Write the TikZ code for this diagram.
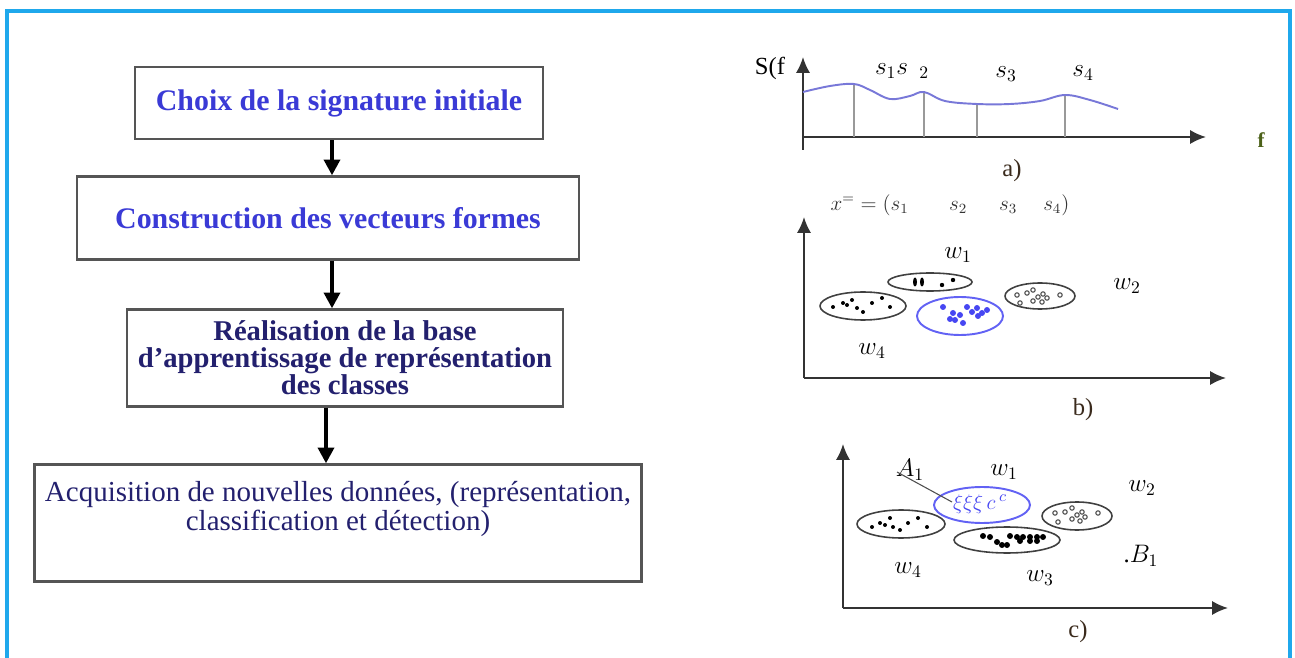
\documentclass[tikz,border=0pt]{standalone}
\usepackage{fontspec}
\setmainfont{Liberation Serif}
\usetikzlibrary{arrows.meta, calc}

\definecolor{framecyan}{HTML}{1FA8EC}
\definecolor{titleblue}{HTML}{3A3AD6}
\definecolor{navytext}{HTML}{23206E}
\definecolor{boxgray}{HTML}{555555}
\definecolor{curveblue}{HTML}{7878D8}
\definecolor{clusterblue}{HTML}{4646F2}
\definecolor{capbrown}{HTML}{3A2A1C}

\tikzset{
  stepbox/.style={draw=boxgray, line width=1.3pt, fill=white, inner sep=2pt, align=center},
  flow/.style={line width=2.6pt, -{Triangle[length=9pt, width=9pt]}},
  axis/.style={line width=1.1pt, draw=black!80, -{Latex[length=9pt, width=8pt]}},
  cluster/.style={draw=black!75, line width=0.9pt},
  bluecluster/.style={draw=clusterblue!85, line width=1.1pt},
  tick/.style={draw=black!40, line width=0.9pt},
  lbl/.style={font=\fontsize{14}{16}\selectfont},
}

\begin{document}
\begin{tikzpicture}[x=0.02cm, y=-0.02cm, >=Latex]
        \useasboundingbox (0,0) rectangle (1295,658);

        % --- FRAME ---
        \draw[framecyan, line width=1.8pt] (7,658) -- (7,11) -- (1290,11) -- (1290,658);

        % --- FLOW CHART (LEFT) ---
        \node[stepbox, minimum width=8.16cm, minimum height=1.44cm, text=titleblue,
              font=\bfseries\fontsize{17}{20}\selectfont] (choix) at (339,103)
              {Choix de la signature initiale};
        \node[stepbox, minimum width=10.04cm, minimum height=1.66cm, text=titleblue,
              font=\bfseries\fontsize{17}{20}\selectfont] (vect) at (328,218)
              {Construction des vecteurs formes};
        \node[stepbox, minimum width=8.72cm, minimum height=1.94cm, text=navytext,
              font=\bfseries\fontsize{16.3}{15.3}\selectfont] (base) at (345,358)
              {Réalisation de la base\\ d'apprentissage de représentation\\ des classes};
        \node[stepbox, minimum width=12.14cm, minimum height=2.34cm, text=navytext,
              font=\fontsize{16.5}{15}\selectfont] (acq) at (338,523)
              {\parbox[c][1.65cm][t]{12cm}{\centering Acquisition de nouvelles données, (représentation,\\ classification et détection)}};

        % Arrows
        \draw[flow] (choix.south) ++(-7,0) coordinate (c1) -- (c1 |- vect.north);
        \draw[flow] (vect.south) ++(4,0) coordinate (c2) -- (c2 |- base.north);
        \draw[flow] (base.south) ++(-19,0) coordinate (c3) -- (c3 |- acq.north);

        % --- a) SIGNATURE ---
        \coordinate (Oa) at (803,137);
        \draw[axis] (803,150) -- (803,57);
        \draw[axis] (Oa) -- (1206,137);
        \foreach \xs/\ys in {854/84, 924/92, 977/104, 1065/95}
            \draw[tick] (\xs,\ys) -- (\xs,137);
        \draw[curveblue, line width=1.1pt] plot[smooth, tension=0.6] coordinates
            {(803,92) (830,86) (854,84) (870,90) (890,99) (910,96) (924,92) (945,101)
             (977,104) (1010,104) (1040,101) (1065,95) (1090,100) (1118,109)};
        \node[lbl] (Sf) at (770,68) {S(f};
        \node[lbl] (s12) at (902,71) {$s_1s\;\,{}_2$};
        \node[lbl] (s3) at (1006,74) {$s_3$};
        \node[lbl] (s4) at (1083,73) {$s_4$};
        \node[font=\bfseries\fontsize{12}{14}\selectfont, text=black!70!green!60!brown] (fa) at (1261,140) {f};
        \node[lbl, text=capbrown] (capa) at (1012,171) {a)};

        % --- b) LEARNING BASE ---
        \node[font=\fontsize{11.5}{13}\selectfont, text=black!80] (xvec) at (950,205)
            {$x^{=} = (s_1\qquad s_2\quad\;\; s_3\quad\; s_4)$};
        \draw[axis] (804,378) -- (804,217);
        \draw[axis] (804,378) -- (1226,378);
        \draw[cluster] (930,282) ellipse (42 and 9);
        \draw[cluster] (863,306) ellipse (43 and 14);
        \draw[bluecluster] (960,316) ellipse (43 and 19);
        \draw[cluster] (1040,296) ellipse (35 and 13);
        % points
        \foreach \px/\py in {833/307, 843/303, 852/300, 857/308, 863/312, 872/303, 882/298, 890/307, 847/305}
            \fill (\px,\py) circle (2);
        \foreach \px/\py in {915/282, 922/282}
            \fill (\px,\py) ellipse (2 and 4.5);
        \foreach \px/\py in {942/285, 953/280}
            \fill (\px,\py) circle (2.2);
        \foreach \px/\py in {943/307, 953/313, 955/320, 963/323, 967/307, 972/312, 977/308, 982/313, 987/310, 960/315, 950/319, 978/316}
            \fill[clusterblue] (\px,\py) circle (3);
        \foreach \px/\py in {1017/295, 1027/293, 1033/290, 1038/297, 1043/294, 1047/298, 1060/295, 1033/301, 1020/303, 1042/302}
            \draw[black!70, line width=0.6pt] (\px,\py) circle (2.2);
        \node[lbl] (w1b) at (958,255) {$w_1$};
        \node[lbl] (w2b) at (1127,286) {$w_2$};
        \node[lbl] (w4b) at (872,351) {$w_4$};
        \node[lbl, text=capbrown] (capb) at (1083,410) {b)};

        % --- c) CLASSIFICATION ---
        \draw[axis] (843,608) -- (843,444);
        \draw[axis] (843,608) -- (1228,608);
        \draw[bluecluster] (982,505) ellipse (48 and 18);
        \draw[cluster] (901,524) ellipse (44 and 14);
        \draw[cluster] (1077,516) ellipse (35 and 14);
        \draw[cluster] (1007,540) ellipse (53 and 13);
        \foreach \px/\py in {872/527, 880/523, 890/518, 893/527, 900/530, 908/523, 918/518, 927/527, 885/525}
            \fill (\px,\py) circle (2);
        \foreach \px/\py in {1055/513, 1065/512, 1072/508, 1077/515, 1082/512, 1085/517, 1098/513, 1072/519, 1058/522, 1080/521}
            \draw[black!70, line width=0.6pt] (\px,\py) circle (2.2);
        \foreach \px/\py in {983/536, 990/537, 997/542, 1002/545, 1010/536, 1017/537, 1023/537, 1030/537, 1037/537, 1043/537, 1020/541, 1007/545, 1030/541, 1037/541}
            \fill (\px,\py) circle (3);
        \node[font=\bfseries\fontsize{13}{15}\selectfont, text=clusterblue] (newpts) at (980,504) {$\xi\xi\xi\,c\,^{c}$};
        \node[lbl] (A1) at (910,470) {$A_1$};
        \draw[black!70, line width=0.6pt] (897,472) -- (952,502);
        \node[lbl] (w1c) at (1004,472) {$w_1$};
        \node[lbl] (w2c) at (1142,488) {$w_2$};
        \node[lbl] (B1) at (1141,556) {.$B_1$};
        \node[lbl] (w4c) at (908,570) {$w_4$};
        \node[lbl] (w3c) at (1040,578) {$w_3$};
        \node[lbl, text=capbrown] (capc) at (1078,632) {c)};
\end{tikzpicture}
\end{document}
